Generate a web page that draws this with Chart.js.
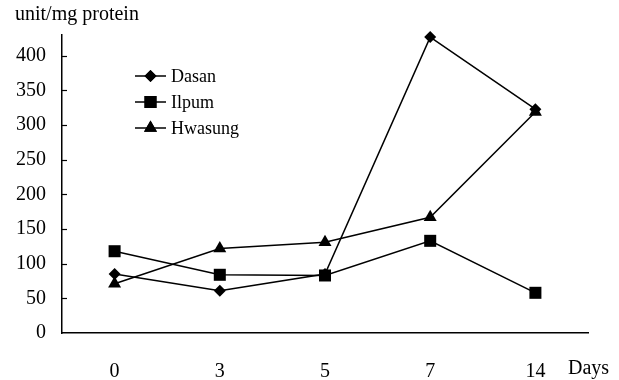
<!DOCTYPE html>
<html>
<head>
<meta charset="utf-8">
<script src="https://cdn.jsdelivr.net/npm/chart.js@4/dist/chart.umd.min.js"></script>
<style>
  html, body { margin: 0; padding: 0; background: #fff; }
  #wrap { width: 619px; height: 380px; position: relative; }
</style>
</head>
<body>
<div id="wrap"><canvas id="c" width="619" height="380"></canvas></div>
<script>
// Enzyme activity over storage time for three cultivars
const days = ['0', '3', '5', '7', '14'];
const dasan = [85, 61, 85, 427, 323];
const ilpum = [118, 84, 83, 133, 58];
const hwasung = [71, 122, 131, 167, 319];
const yTicks = [0, 50, 100, 150, 200, 250, 300, 350, 400];
const yAxisTitle = 'unit/mg protein';
const xAxisTitle = 'Days';

const FONT = '"Liberation Serif", "Times New Roman", serif';
const INK = '#000';

// Axis title, inward y ticks and the in-plot legend
const decorations = {
  id: 'decorations',
  afterDraw(chart) {
    const ctx = chart.ctx;
    const y = chart.scales.y;
    const x = chart.scales.x;
    const area = chart.chartArea;
    ctx.save();
    ctx.fillStyle = INK;
    ctx.strokeStyle = INK;
    ctx.font = '20px ' + FONT;
    ctx.textBaseline = 'middle';
    ctx.textAlign = 'left';
    ctx.fillText(yAxisTitle, 15, 15);
    ctx.fillText(xAxisTitle, 568, x.top + 36);

    ctx.lineWidth = 1.2;
    yTicks.forEach(v => {
      if (v === 0) return;
      const py = Math.round(y.getPixelForValue(v)) + 0.5;
      ctx.beginPath();
      ctx.moveTo(area.left, py);
      ctx.lineTo(area.left + 5, py);
      ctx.stroke();
    });

    // legend
    const lx = 135, ly = 76, gap = 26;
    chart.data.datasets.forEach((ds, i) => {
      const cy = ly + i * gap;
      ctx.lineWidth = 1.5;
      ctx.beginPath();
      ctx.moveTo(lx, cy);
      ctx.lineTo(lx + 31, cy);
      ctx.stroke();
      Chart.helpers.drawPoint(ctx, {
        pointStyle: ds.pointStyle,
        radius: ds.pointRadius,
        rotation: 0,
        borderWidth: 0
      }, lx + 15.5, cy);
      ctx.fill();
      ctx.font = '18px ' + FONT;
      ctx.fillStyle = INK;
      ctx.fillText(ds.label, lx + 36, cy + 1);
    });
    ctx.restore();
  }
};

const lineStyle = {
  borderColor: INK,
  backgroundColor: INK,
  borderWidth: 1.5,
  pointBorderWidth: 0,
  tension: 0,
  fill: false,
  clip: false
};

new Chart(document.getElementById('c'), {
  type: 'line',
  data: {
    labels: days,
    datasets: [
      Object.assign({ label: 'Dasan', data: dasan, pointStyle: 'rectRot', pointRadius: 6 }, lineStyle),
      Object.assign({ label: 'Ilpum', data: ilpum, pointStyle: 'rect', pointRadius: 8.5 }, lineStyle),
      Object.assign({ label: 'Hwasung', data: hwasung, pointStyle: 'triangle', pointRadius: 7.5 }, lineStyle)
    ]
  },
  options: {
    responsive: false,
    animation: false,
    layout: { padding: { left: 0, top: 35, right: 31, bottom: 0 } },
    plugins: { legend: { display: false }, tooltip: { enabled: false } },
    scales: {
      x: {
        type: 'category',
        offset: true,
        grid: { display: false, drawTicks: false },
        border: { display: true, color: INK, width: 1.5 },
        ticks: { color: INK, font: { family: FONT, size: 20 }, padding: 27, maxRotation: 0 },
        afterFit(scale) { scale.height = 47; }
      },
      y: {
        min: 0,
        max: 430,
        grid: { display: false, drawTicks: false },
        border: { display: true, color: INK, width: 1.5 },
        afterBuildTicks(scale) { scale.ticks = yTicks.map(v => ({ value: v })); },
        ticks: { color: INK, font: { family: FONT, size: 20 }, padding: 16 },
        afterFit(scale) { scale.width = 62; }
      }
    }
  },
  plugins: [decorations]
});
</script>
</body>
</html>
